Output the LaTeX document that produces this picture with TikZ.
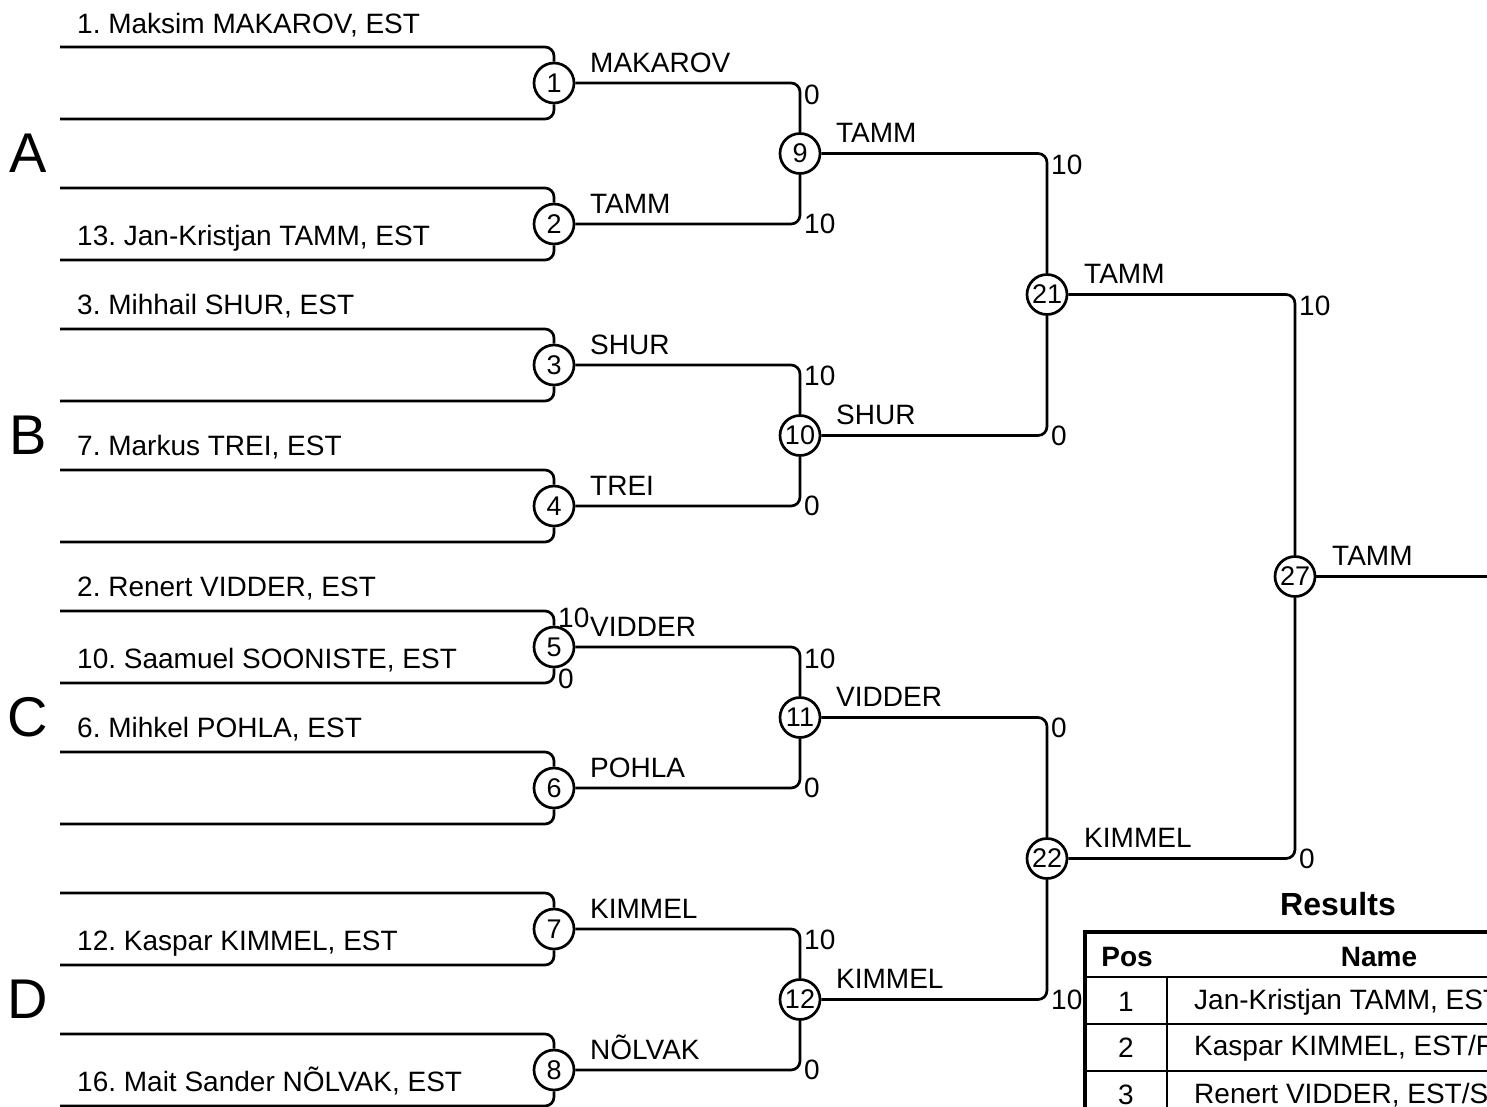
\documentclass[tikz,border=0pt]{standalone}
\usepackage{fontspec}
\setmainfont{Liberation Sans}
\frenchspacing
\begin{document}
\begin{tikzpicture}[x=1pt,y=-1pt,
  conn/.style={line width=2.7pt, rounded corners=9pt},
  mnode/.style={circle, draw, line width=2.7pt, minimum size=40pt, inner sep=0pt, fill=white, font=\fontsize{27}{27}\selectfont},
  pname/.style={anchor=base west, inner sep=0pt, font=\fontsize{28}{28}\selectfont},
  wname/.style={anchor=base west, inner sep=0pt, font=\fontsize{28}{28}\selectfont},
  score/.style={anchor=west, inner sep=0pt, font=\fontsize{28}{28}\selectfont},
  grp/.style={anchor=base, inner sep=0pt, font=\fontsize{56}{56}\selectfont},
  ttitle/.style={inner sep=0pt, font=\fontsize{32}{32}\selectfont\bfseries},
  thead/.style={inner sep=0pt, font=\fontsize{28}{28}\selectfont\bfseries},
  tcell/.style={inner sep=0pt, font=\fontsize{28}{28}\selectfont},
  tline/.style={line width=2.4pt},
  tborder/.style={line width=4.2pt}
]
\useasboundingbox (0,0) rectangle (1487,1106);
\clip (0,0) rectangle (1487,1106);

% match circles
\node[mnode] (m1) at (554,83) {1};
\node[mnode] (m2) at (554,224) {2};
\node[mnode] (m3) at (554,365) {3};
\node[mnode] (m4) at (554,506) {4};
\node[mnode] (m5) at (554,647) {5};
\node[mnode] (m6) at (554,788) {6};
\node[mnode] (m7) at (554,929) {7};
\node[mnode] (m8) at (554,1070) {8};
\node[mnode] (m9) at (800,153.5) {9};
\node[mnode] (m10) at (800,435.5) {10};
\node[mnode] (m11) at (800,717.5) {11};
\node[mnode] (m12) at (800,999.5) {12};
\node[mnode] (m21) at (1047,294.5) {21};
\node[mnode] (m22) at (1047,858.5) {22};
\node[mnode] (m27) at (1295,576.5) {27};

% entry line starts
\coordinate (e1a) at (60,47);   \coordinate (e1b) at (60,119);
\coordinate (e2a) at (60,188);  \coordinate (e2b) at (60,260);
\coordinate (e3a) at (60,329);  \coordinate (e3b) at (60,401);
\coordinate (e4a) at (60,470);  \coordinate (e4b) at (60,542);
\coordinate (e5a) at (60,611);  \coordinate (e5b) at (60,683);
\coordinate (e6a) at (60,752);  \coordinate (e6b) at (60,824);
\coordinate (e7a) at (60,893);  \coordinate (e7b) at (60,965);
\coordinate (e8a) at (60,1034); \coordinate (e8b) at (60,1106);
\coordinate (champ) at (1495,576.5);

% first round brackets
\foreach \k in {1,...,8}{
  \draw[conn] (e\k a) -| (m\k.north);
  \draw[conn] (e\k b) -| (m\k.south);
}

% later rounds
\draw[conn] (m1.east) -| (m9.north);
\draw[conn] (m2.east) -| (m9.south);
\draw[conn] (m3.east) -| (m10.north);
\draw[conn] (m4.east) -| (m10.south);
\draw[conn] (m5.east) -| (m11.north);
\draw[conn] (m6.east) -| (m11.south);
\draw[conn] (m7.east) -| (m12.north);
\draw[conn] (m8.east) -| (m12.south);
\draw[conn] (m9.east) -| (m21.north);
\draw[conn] (m10.east) -| (m21.south);
\draw[conn] (m11.east) -| (m22.north);
\draw[conn] (m12.east) -| (m22.south);
\draw[conn] (m21.east) -| (m27.north);
\draw[conn] (m22.east) -| (m27.south);
\draw[conn] (m27.east) -- (champ);

% player names
\node[pname] (n1) at (77,33) {1. Maksim MAKAROV, EST};
\node[pname] (n13) at (77,245) {13. Jan-Kristjan TAMM, EST};
\node[pname] (n3) at (77,314) {3. Mihhail SHUR, EST};
\node[pname] (n7) at (77,455) {7. Markus TREI, EST};
\node[pname] (n2) at (77,596) {2. Renert VIDDER, EST};
\node[pname] (n10) at (77,668) {10. Saamuel SOONISTE, EST};
\node[pname] (n6) at (77,737) {6. Mihkel POHLA, EST};
\node[pname] (n12) at (77,950) {12. Kaspar KIMMEL, EST};
\node[pname] (n16) at (77,1091) {16. Mait Sander NÕLVAK, EST};

% group letters
\node[grp] (gA) at (28,172) {A};
\node[grp] (gB) at (28,454) {B};
\node[grp] (gC) at (28,736) {C};
\node[grp] (gD) at (28,1018) {D};

% winner labels
\node[wname] (w1) at (590,72) {MAKAROV};
\node[wname] (w2) at (590,213) {TAMM};
\node[wname] (w3) at (590,354) {SHUR};
\node[wname] (w4) at (590,495) {TREI};
\node[wname] (w5) at (590,636) {VIDDER};
\node[wname] (w6) at (590,777) {POHLA};
\node[wname] (w7) at (590,918) {KIMMEL};
\node[wname] (w8) at (590,1059) {NÕLVAK};
\node[wname] (w9) at (836,142.5) {TAMM};
\node[wname] (w10) at (836,424.5) {SHUR};
\node[wname] (w11) at (836,706.5) {VIDDER};
\node[wname] (w12) at (836,988.5) {KIMMEL};
\node[wname] (w21) at (1084,283.5) {TAMM};
\node[wname] (w22) at (1084,847.5) {KIMMEL};
\node[wname] (w27) at (1332,565.5) {TAMM};

% scores
\node[score] (s5a) at (558,618) {10};
\node[score] (s5b) at (558,679) {0};
\node[score] (s1) at (804,95) {0};
\node[score] (s2) at (804,224) {10};
\node[score] (s3) at (804,376) {10};
\node[score] (s4) at (804,506) {0};
\node[score] (s5) at (804,658.5) {10};
\node[score] (s6) at (804,788) {0};
\node[score] (s7) at (804,940) {10};
\node[score] (s8) at (804,1070) {0};
\node[score] (s9) at (1051,165) {10};
\node[score] (s10) at (1051,435.5) {0};
\node[score] (s11) at (1051,728) {0};
\node[score] (s12) at (1051,999.5) {10};
\node[score] (s21) at (1299,305.5) {10};
\node[score] (s22) at (1299,858.5) {0};

% results table
\node[ttitle] (rt) at (1338,904) {Results};
\draw[tborder] (1085,932) rectangle (1700,1300);
\draw[tline] (1085,977) -- (1700,977);
\draw[tline] (1085,1024) -- (1700,1024);
\draw[tline] (1085,1071) -- (1700,1071);
\draw[tline] (1167,977) -- (1167,1300);
\node[thead] (hpos) at (1127,957) {Pos};
\node[thead] (hname) at (1379,957) {Name};
\node[tcell] (p1) at (1126,1002) {1};
\node[tcell, anchor=west] (r1) at (1194,1002) {Jan-Kristjan TAMM, EST};
\node[tcell] (p2) at (1126,1048) {2};
\node[tcell, anchor=west] (r2) at (1194,1048) {Kaspar KIMMEL, EST/R};
\node[tcell] (p3) at (1126,1095) {3};
\node[tcell, anchor=west] (r3) at (1194,1095) {Renert VIDDER, EST/S};
\end{tikzpicture}
\end{document}
